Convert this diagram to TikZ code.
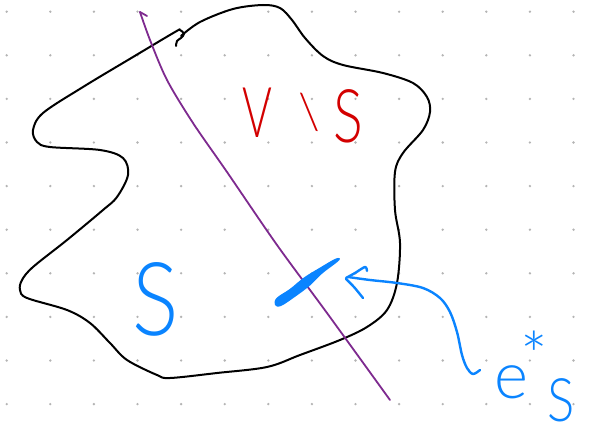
\documentclass[tikz,border=0pt]{standalone}
\usepackage{fontspec}
\newfontfamily\handfont{Lato Light}
\definecolor{inkred}{HTML}{D30000}
\definecolor{inkblue}{HTML}{0A84FF}
\definecolor{inkpurple}{HTML}{7E2A8F}
\definecolor{dotgray}{HTML}{B4B4B4}
\tikzset{
  pen/.style={line width=2pt, line cap=round, line join=round},
  outline/.style={pen, black, smooth, tension=0.55},
  cutline/.style={pen, inkpurple, line width=1.8pt},
  bluepen/.style={pen, inkblue, line width=2.4pt},
  handtext/.style={inner sep=0pt, anchor=base},
  griddot/.style={fill=dotgray}
}
\newcommand{\handsize}[1]{\handfont\fontsize{#1}{#1}\selectfont}
\begin{document}
\begin{tikzpicture}[x=1pt,y=-1pt]
\useasboundingbox (0,0) rectangle (592,433);
\fill[white] (0,0) rectangle (592,433);
% dotted paper
\foreach \i in {0,...,13}
  \foreach \j in {0,...,9}
    \fill[griddot] (6.7+43.6*\i, 11.7+43.6*\j) circle (1.3);

% the closed region
\draw[outline] plot coordinates {
  (181,36) (200,22) (233,9) (263,5) (280,8) (292,20) (305,38) (323,56)
  (343,65) (383,73) (413,83) (427,97) (430,112) (423,130) (403,153)
  (395,172) (395,210) (400,243) (397,283) (387,310) (367,327) (340,340)
  (300,355) (267,367) (217,373) (170,378) (157,375) (127,360) (110,343)
  (90,323) (67,310) (27,298) (20,290) (22,280) (33,267) (67,240)
  (103,210) (117,197) (128,175) (123,158) (100,150) (50,147) (37,142)
  (33,130) (43,113) (83,87) (133,57) (175,32) (180,30) (184,34)
  (181,38) (177,41) (176,46)};

% the cut
\draw[cutline] plot[smooth, tension=0.5] coordinates {
  (140,12) (150,40) (167,80) (193,123) (227,172) (277,245) (327,313) (390,400)};
\coordinate (cuttop) at (140,12);
\coordinate (cuttick) at (147,16);
\draw[cutline] (cuttop) -- (cuttick);

% the crossing edge, a heavy tapered stroke
\fill[inkblue] plot[smooth cycle, tension=0.6] coordinates {
  (275,305) (276.5,298) (289.8,289) (304.1,277.4) (320,267.6) (336,258.5)
  (339,260.5) (322.3,273.5) (309.9,285.6) (295.5,296.5) (281,306)};

% pointer to the edge
\draw[bluepen] plot[smooth, tension=0.55] coordinates {
  (348,277) (370,280) (397,283) (423,288) (440,298) (450,312) (457,332)
  (462,355) (467,368) (473,374) (480,370)};
\draw[bluepen] plot[smooth, tension=0.5] coordinates {
  (346,278) (355,273) (365,267) (367,271)};
\draw[bluepen] plot[smooth, tension=0.5] coordinates {
  (346,279) (354,287) (363,298)};

% labels
\node[handtext, text=inkred, font=\handsize{70}] (labV) at (257,138) {\scalebox{0.65}[1]{V}};
\node[handtext, text=inkred, font=\handsize{50}] (labminus) at (309,130) {\textbackslash};
\node[handtext, text=inkred, font=\handsize{74}] (labVS) at (348,143) {\scalebox{0.75}[1]{S}};
\node[handtext, text=inkblue, font=\handsize{102}] (labS) at (156,335) {\scalebox{0.85}[1]{S}};
\node[handtext, anchor=base west, text=inkblue, font=\handsize{65}] (labe) at (494,398)
  {e\kern-8pt\raisebox{19pt}{*}};
\node[handtext, text=inkblue, font=\handsize{60}] (labsub) at (561,421) {\scalebox{0.85}[1]{S}};
\end{tikzpicture}
\end{document}
